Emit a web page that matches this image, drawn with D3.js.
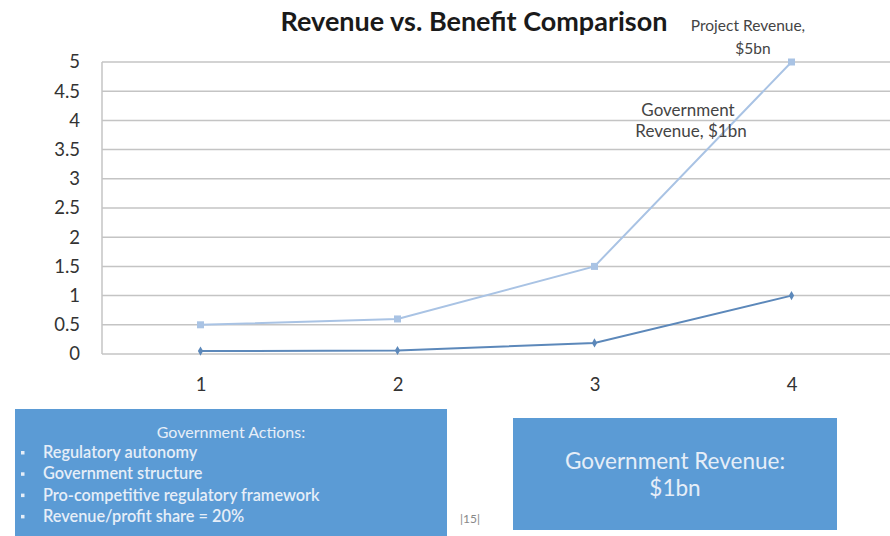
<!DOCTYPE html>
<html><head><meta charset="utf-8">
<script src="https://cdn.jsdelivr.net/npm/d3@7"></script>
<style>body{margin:0;background:#fff}svg{display:block}</style>
</head><body>
<svg id="c" width="890" height="536"></svg>
<script>
const categories = ["1","2","3","4"];
const projectRevenue = [0.5, 0.6, 1.5, 5];
const governmentRevenue = [0.05, 0.06, 0.19, 1];
const yTicks = [0,0.5,1,1.5,2,2.5,3,3.5,4,4.5,5];
const actionsTitle = "Government Actions:";
const actionsItems = ["Regulatory autonomy","Government structure","Pro-competitive regulatory framework","Revenue/profit share = 20%"];

const svg = d3.select("#c");
const font = "Lato, 'Open Sans', sans-serif";
const x = d3.scalePoint().domain(categories).range([102, 890]).padding(0.5);
const y = d3.scaleLinear().domain([0,5]).range([354, 62]);

// gridlines
svg.append("g").selectAll("line").data(yTicks).join("line")
  .attr("x1",102).attr("x2",890).attr("y1",d=>y(d)).attr("y2",d=>y(d))
  .attr("stroke","#c4c4c4").attr("stroke-width",1.5);
svg.append("line").attr("x1",102).attr("x2",102).attr("y1",y(5)).attr("y2",y(0))
  .attr("stroke","#c4c4c4").attr("stroke-width",1.5);

// y axis labels
const ya = svg.append("g").attr("transform","translate(80,0)")
  .call(d3.axisLeft(y).tickValues(yTicks).tickSize(0).tickPadding(0).tickFormat(d3.format("")));
ya.select(".domain").remove();
ya.selectAll("text").attr("font-family",font).attr("font-size",18.5).attr("fill","#333");

// x axis labels
const xa = svg.append("g").attr("transform","translate(0,378)")
  .call(d3.axisBottom(x).tickSize(0).tickPadding(0));
xa.select(".domain").remove();
xa.selectAll("text").attr("font-family",font).attr("font-size",18.5).attr("fill","#333");

const line = d3.line().x((d,i)=>x(categories[i])).y(d=>y(d));
svg.append("path").datum(projectRevenue).attr("d",line).attr("fill","none")
  .attr("stroke","#a9c3e4").attr("stroke-width",2);
svg.append("path").datum(governmentRevenue).attr("d",line).attr("fill","none")
  .attr("stroke","#5c88ba").attr("stroke-width",2);
svg.append("g").selectAll("rect").data(projectRevenue).join("rect")
  .attr("x",(d,i)=>x(categories[i])-3.5).attr("y",d=>y(d)-3.5).attr("width",7).attr("height",7)
  .attr("fill","#a9c3e4");
svg.append("g").selectAll("path").data(governmentRevenue).join("path")
  .attr("transform",(d,i)=>`translate(${x(categories[i])},${y(d)})`)
  .attr("d",d3.symbol(d3.symbolDiamond,24)).attr("fill","#5c88ba");

// title
svg.append("text").attr("x",474).attr("y",31).attr("text-anchor","middle")
  .attr("font-family",font).attr("font-weight","bold").attr("font-size",27).attr("fill","#1a1a1a")
  .text("Revenue vs. Benefit Comparison");

// annotations
const ann = svg.append("g").attr("font-family",font).attr("fill","#444").attr("text-anchor","middle");
ann.append("text").attr("x",748).attr("y",31).attr("font-size",15.5).text("Project Revenue,");
ann.append("text").attr("x",753).attr("y",54).attr("font-size",15.5).text("$5bn");
ann.append("text").attr("x",688).attr("y",116).attr("font-size",17).text("Government");
ann.append("text").attr("x",691).attr("y",137).attr("font-size",17).text("Revenue, $1bn");

// boxes
svg.append("rect").attr("x",15).attr("y",409).attr("width",432).attr("height",130).attr("fill","#5b9bd5");
svg.append("rect").attr("x",513).attr("y",418).attr("width",324).attr("height",112).attr("fill","#5b9bd5");
const tc = "#e6eef8";
svg.append("text").attr("x",231).attr("y",438).attr("text-anchor","middle").attr("font-family",font)
  .attr("font-size",16).attr("fill",tc).text(actionsTitle);
const items = svg.append("g").attr("font-family",font).attr("font-size",16.3).attr("fill",tc).attr("font-weight","600");
actionsItems.forEach((t,i)=>{
  items.append("rect").attr("x",21).attr("y",451+i*21.3).attr("width",3.5).attr("height",3.5).attr("fill",tc);
  items.append("text").attr("x",43).attr("y",458+i*21.3).text(t);
});
svg.append("text").attr("x",675).attr("y",469).attr("text-anchor","middle").attr("font-family",font)
  .attr("font-size",22.5).attr("fill",tc).text("Government Revenue:");
svg.append("text").attr("x",675).attr("y",496).attr("text-anchor","middle").attr("font-family",font)
  .attr("font-size",22.5).attr("fill",tc).text("$1bn");
svg.append("text").attr("x",470).attr("y",523).attr("text-anchor","middle").attr("font-family",font)
  .attr("font-size",12).attr("fill","#888").text("|15|");
</script>
</body></html>
